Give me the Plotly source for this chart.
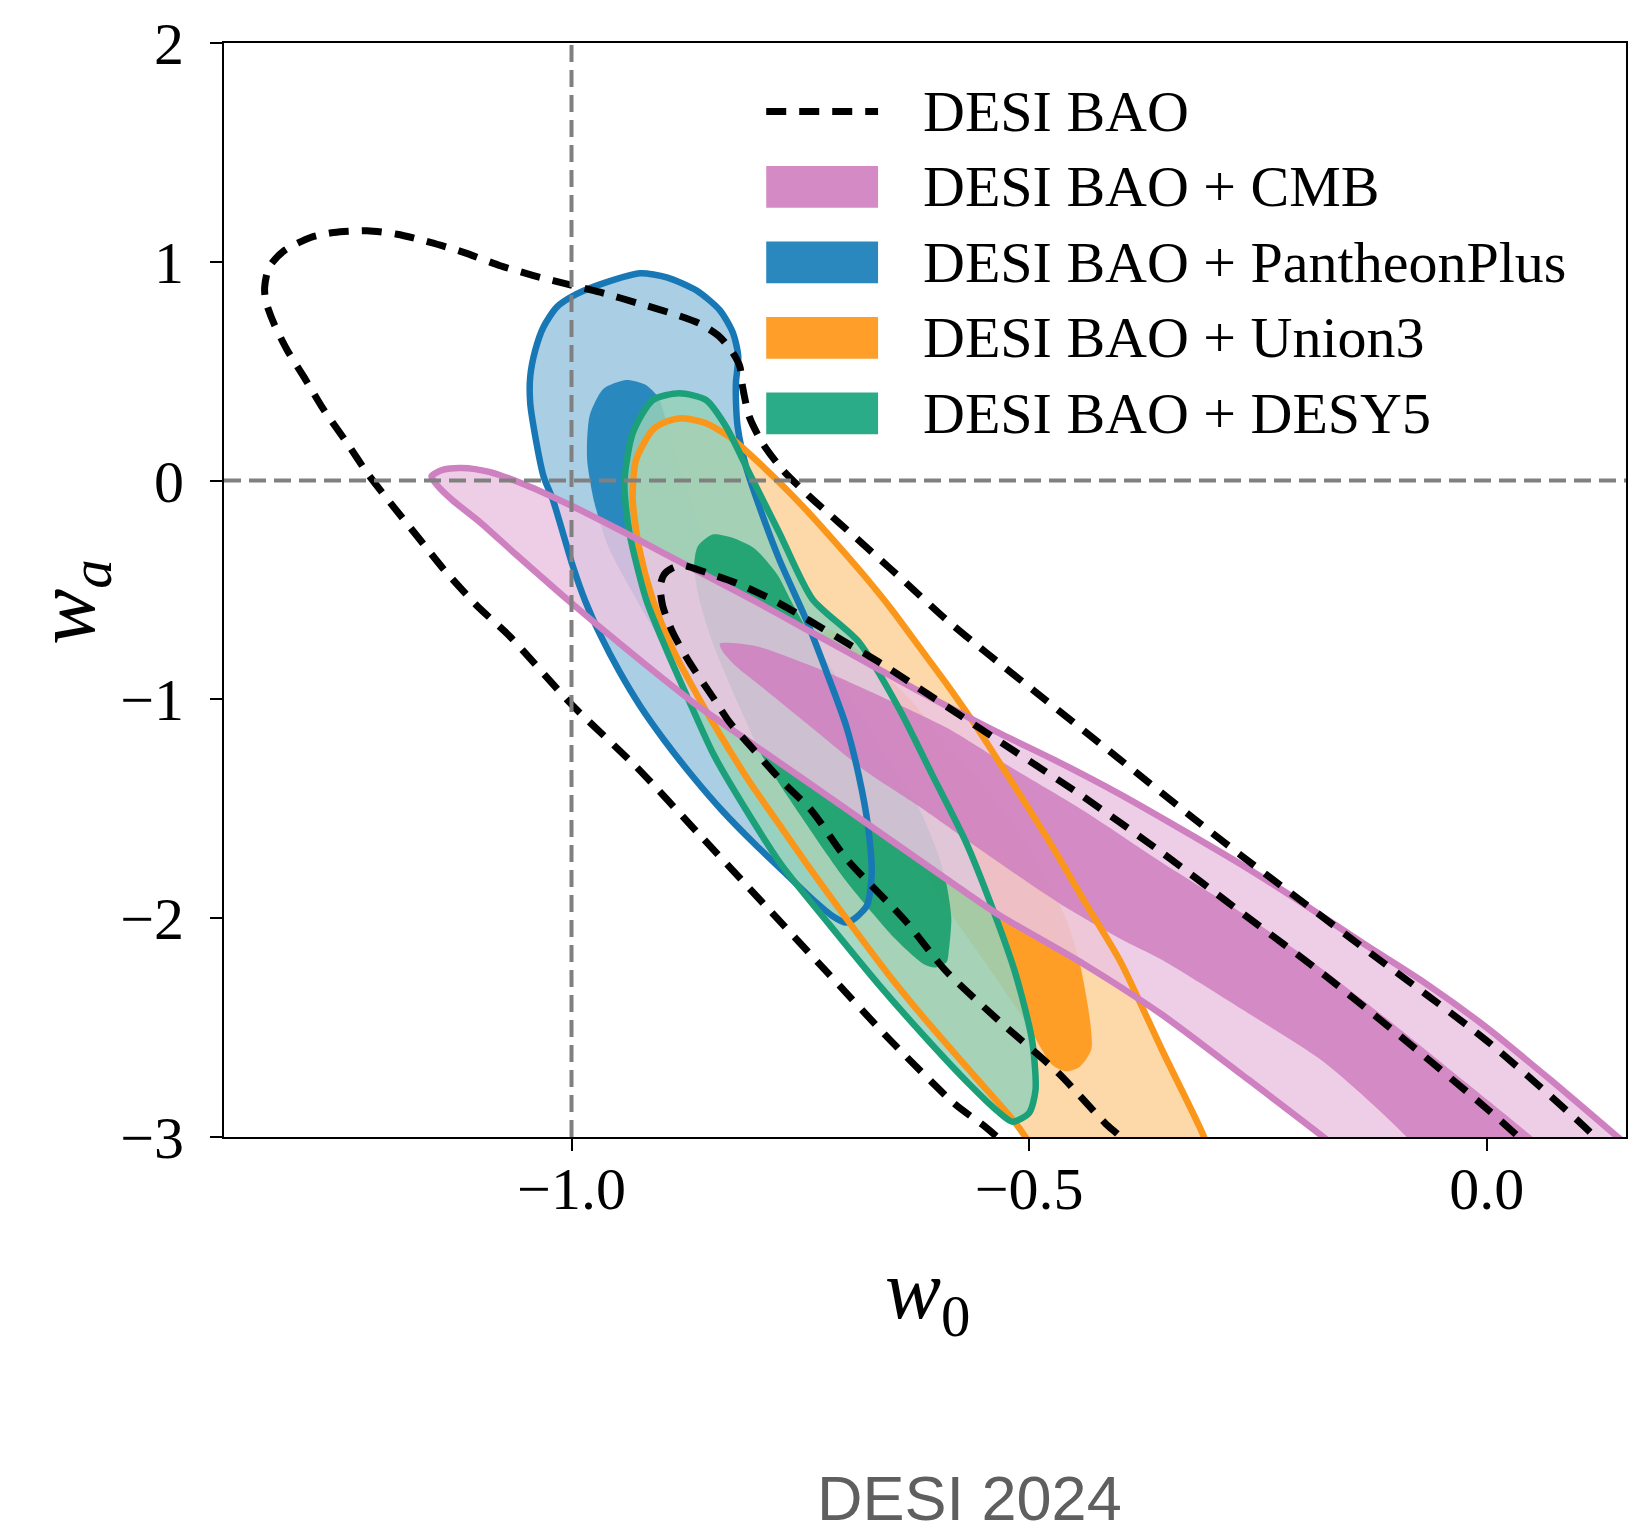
import plotly.graph_objects as go

# ---------------- data ----------------
W0_RANGE = [-1.3797, 0.1522]
WA_RANGE = [-3.0, 2.0]
W0_TICKS = [-1.0, -0.5, 0.0]
W0_TICK_TEXT = ["\u22121.0", "\u22120.5", "0.0"]
WA_TICKS = [-3, -2, -1, 0, 1, 2]
WA_TICK_TEXT = ["\u22123", "\u22122", "\u22121", "0", "1", "2"]

LEGEND_LABELS = ["DESI BAO", "DESI BAO + CMB", "DESI BAO + PantheonPlus",
                 "DESI BAO + Union3", "DESI BAO + DESY5"]

# DESI BAO alone (dashed, open paths because they leave the axes)
desi_95_w0 = [-0.51, -0.535, -0.548, -0.581, -0.6505, -0.72, -0.7896, -0.8591, -0.9288, -1.0,
              -1.0678, -1.1033, -1.1397, -1.1688, -1.1979, -1.2233, -1.2451, -1.2706, -1.2924,
              -1.3106, -1.3251, -1.3342, -1.3353, -1.3306, -1.3142, -1.2851, -1.2597, -1.2233,
              -1.1906, -1.1542, -1.1178, -1.0778, -1.0415, -0.9978, -0.9687, -0.9251, -0.8887,
              -0.8596, -0.8378, -0.8233, -0.816, -0.8131, -0.8058, -0.7913, -0.7695, -0.7403,
              -0.7076, -0.6712, -0.6348, -0.5912, -0.5475, -0.493, -0.4021, -0.3184, -0.2662,
              -0.1329, 0.0, 0.1117, 0.14]
desi_95_wa = [-3.10, -3.00, -2.953, -2.85, -2.563, -2.25, -1.936, -1.623, -1.31, -1.023,
              -0.71, -0.572, -0.405, -0.253, -0.102, 0.035, 0.171, 0.323, 0.474,
              0.596, 0.717, 0.823, 0.884, 0.975, 1.050, 1.111, 1.134, 1.142,
              1.126, 1.089, 1.043, 0.982, 0.937, 0.891, 0.861, 0.808, 0.762,
              0.717, 0.656, 0.581, 0.52, 0.429, 0.293, 0.171, 0.050, -0.071,
              -0.193, -0.329, -0.466, -0.633, -0.784, -0.966, -1.270, -1.550, -1.72,
              -2.141, -2.56, -2.973, -3.10]

desi_68_w0 = [-0.38, -0.40, -0.4166, -0.4675, -0.533, -0.5912, -0.635, -0.7003, -0.737, -0.773,
              -0.8022, -0.8276, -0.842, -0.8712, -0.8895, -0.9004, -0.903, -0.899, -0.89,
              -0.8786, -0.853, -0.82, -0.78, -0.74, -0.70, -0.66, -0.62, -0.58, -0.533,
              -0.4441, -0.355, -0.2662, -0.1773, -0.0884, 0.0, 0.035, 0.05]
desi_68_wa = [-3.10, -3.00, -2.938, -2.71, -2.468, -2.24, -2.013, -1.725, -1.512, -1.361,
              -1.224, -1.103, -1.012, -0.830, -0.693, -0.572, -0.48, -0.43, -0.40,
              -0.387, -0.42, -0.468, -0.545, -0.64, -0.74, -0.84, -0.95, -1.06, -1.19,
              -1.435, -1.70, -1.98, -2.26, -2.56, -2.87, -3.0, -3.06]

# DESI BAO + CMB (pink)
cmb_95_w0 = [-1.153, -1.14, -1.12, -1.09, -1.05, -1.0, -0.95, -0.90, -0.85, -0.80, -0.75, -0.70,
             -0.65, -0.598, -0.533, -0.466, -0.400, -0.333, -0.266, -0.2, -0.133, -0.066, 0.0,
             0.07, 0.143, 0.17, 0.17, -0.14, -0.15, -0.177, -0.266, -0.355, -0.44, -0.533,
             -0.5767, -0.70, -0.80, -0.8676, -0.94, -1.0, -1.06, -1.10, -1.13, -1.147]
cmb_95_wa = [0.02, 0.05, 0.058, 0.04, -0.02, -0.115, -0.22, -0.33, -0.44, -0.55, -0.665, -0.78,
             -0.895, -1.012, -1.153, -1.29, -1.435, -1.595, -1.76, -1.935, -2.12, -2.30, -2.50,
             -2.74, -3.0, -3.1, -3.4, -3.4, -3.1, -3.005, -2.72, -2.44, -2.21, -1.985,
             -1.861, -1.50, -1.21, -1.012, -0.77, -0.56, -0.34, -0.19, -0.09, -0.02]
cmb_68_w0 = [-0.838, -0.80, -0.73, -0.66, -0.59, -0.52, -0.44, -0.355, -0.266, -0.1773, -0.1,
             -0.02, 0.049, 0.07, 0.07, -0.07, -0.07, -0.0884, -0.1773, -0.266, -0.355,
             -0.402, -0.46, -0.50, -0.569, -0.62, -0.678, -0.74, -0.79, -0.82, -0.835]
cmb_68_wa = [-0.745, -0.755, -0.86, -0.99, -1.13, -1.31, -1.51, -1.745, -1.98, -2.24, -2.49,
             -2.76, -2.996, -3.08, -3.4, -3.4, -3.1, -2.996, -2.659, -2.42, -2.19,
             -2.09, -1.95, -1.84, -1.64, -1.49, -1.33, -1.12, -0.95, -0.85, -0.78]

# DESI BAO + PantheonPlus (blue)
pan_95_w0 = [-0.9251, -0.896, -0.8633, -0.8378, -0.8233, -0.8178, -0.8203, -0.8203, -0.8185,
             -0.8094, -0.7949, -0.773, -0.7439, -0.72, -0.70, -0.686, -0.676, -0.672,
             -0.677, -0.69, -0.70, -0.715, -0.735, -0.765, -0.80, -0.835, -0.868, -0.898,
             -0.925, -0.948, -0.968, -0.985, -0.9986, -1.0204, -1.0306, -1.0396, -1.0451,
             -1.0451, -1.0396, -1.0306, -1.0161, -0.9942, -0.9615]
pan_95_wa = [0.948, 0.929, 0.869, 0.778, 0.672, 0.566, 0.45, 0.36, 0.247,
             0.065, -0.117, -0.36, -0.633, -0.89, -1.12, -1.35, -1.58, -1.80,
             -1.94, -2.0, -2.02, -1.99, -1.92, -1.80, -1.66, -1.51, -1.35, -1.19,
             -1.03, -0.87, -0.71, -0.55, -0.39, -0.087, 0.02, 0.202, 0.353,
             0.475, 0.596, 0.702, 0.793, 0.853, 0.907]
pan_68_w0 = [-0.94, -0.965, -0.98, -0.983, -0.975, -0.96, -0.935, -0.90, -0.86, -0.82, -0.79,
             -0.775, -0.78, -0.80, -0.83, -0.86, -0.88, -0.895, -0.905, -0.92]
pan_68_wa = [0.46, 0.42, 0.30, 0.10, -0.10, -0.30, -0.50, -0.75, -1.00, -1.20, -1.30,
             -1.25, -1.05, -0.80, -0.50, -0.20, 0.05, 0.25, 0.38, 0.44]

# DESI BAO + Union3 (orange)
uni_95_w0 = [-0.8786, -0.896, -0.9113, -0.9294, -0.9331, -0.9258, -0.9113, -0.8895, -0.8585,
             -0.835, -0.805, -0.775, -0.74, -0.70, -0.655, -0.61, -0.56, -0.52, -0.504, -0.49,
             -0.48, -0.29, -0.30, -0.3108, -0.355, -0.40, -0.44, -0.475, -0.52, -0.56,
             -0.59, -0.62, -0.65, -0.68, -0.71, -0.74, -0.77, -0.80, -0.824, -0.853]
uni_95_wa = [0.285, 0.27, 0.232, 0.095, -0.087, -0.314, -0.542, -0.769, -1.012,
             -1.18, -1.38, -1.56, -1.77, -2.0, -2.25, -2.48, -2.72, -2.91, -3.0, -3.1,
             -3.4, -3.4, -3.1, -2.981, -2.60, -2.20, -1.92, -1.67, -1.37, -1.11,
             -0.93, -0.76, -0.59, -0.435, -0.29, -0.15, -0.02, 0.10, 0.19, 0.262]
uni_68_w0 = [-0.72, -0.68, -0.63, -0.58, -0.53, -0.49, -0.46, -0.445, -0.434, -0.432, -0.445,
             -0.46, -0.475, -0.50, -0.54, -0.59, -0.64, -0.68, -0.715, -0.735]
uni_68_wa = [-0.68, -0.80, -1.00, -1.25, -1.50, -1.75, -2.00, -2.20, -2.45, -2.60, -2.68,
             -2.70, -2.67, -2.50, -2.25, -1.95, -1.60, -1.30, -1.00, -0.80]

# DESI BAO + DESY5 (green)
des_95_w0 = [-0.8822, -0.9113, -0.9331, -0.9422, -0.9367, -0.9185, -0.8967, -0.871, -0.845,
             -0.81, -0.77, -0.72, -0.665, -0.61, -0.565, -0.535, -0.518, -0.50, -0.493,
             -0.4967, -0.5148, -0.5403, -0.5694, -0.6058, -0.6421, -0.6858, -0.7367, -0.773,
             -0.8058, -0.8312, -0.853]
des_95_wa = [0.399, 0.368, 0.217, -0.011, -0.238, -0.542, -0.769, -1.012, -1.25,
             -1.50, -1.76, -2.02, -2.30, -2.56, -2.76, -2.88, -2.93, -2.89, -2.786,
             -2.559, -2.255, -1.952, -1.649, -1.345, -1.042, -0.739, -0.542, -0.238,
             0.035, 0.247, 0.368]
des_68_w0 = [-0.846, -0.862, -0.866, -0.86, -0.845, -0.82, -0.79, -0.75, -0.70, -0.645, -0.615,
             -0.602, -0.59, -0.588, -0.585, -0.59, -0.60, -0.62, -0.65, -0.68, -0.71, -0.74,
             -0.76, -0.775, -0.80, -0.825]
des_68_wa = [-0.246, -0.30, -0.39, -0.55, -0.75, -1.00, -1.27, -1.53, -1.83, -2.10, -2.21,
             -2.225, -2.20, -2.16, -2.00, -1.85, -1.70, -1.50, -1.30, -1.10, -0.90, -0.70,
             -0.55, -0.43, -0.31, -0.26]

# colours
BLUE = dict(light="rgba(155,199,223,0.85)", dark="rgba(19,124,183,0.85)",
            line="rgb(24,120,182)", patch="rgb(42,136,190)")
ORANGE = dict(light="rgba(253,209,153,0.85)", dark="rgba(255,148,17,0.85)",
              line="rgb(250,150,25)", patch="rgb(255,158,40)")
GREEN = dict(light="rgba(151,209,186,0.85)", dark="rgba(15,156,104,0.85)",
             line="rgb(28,160,122)", patch="rgb(42,172,137)")
PINK = dict(light="rgba(235,198,226,0.85)", dark="rgba(207,126,190,0.85)",
            line="rgb(207,128,192)", patch="rgb(212,138,196)")

SPLINE = dict(shape="spline", smoothing=0.7)


def closed(a):
    return list(a) + [a[0]]


fig = go.Figure()

sets = [
    (pan_95_w0, pan_95_wa, pan_68_w0, pan_68_wa, BLUE),
    (uni_95_w0, uni_95_wa, uni_68_w0, uni_68_wa, ORANGE),
    (des_95_w0, des_95_wa, des_68_w0, des_68_wa, GREEN),
    (cmb_95_w0, cmb_95_wa, cmb_68_w0, cmb_68_wa, PINK),
]

# filled regions
for x95, y95, x68, y68, col in sets:
    fig.add_trace(go.Scatter(x=closed(x95), y=closed(y95), mode="lines", fill="toself",
                             fillcolor=col["light"], line=dict(width=0, **SPLINE),
                             hoverinfo="skip", showlegend=False))
    fig.add_trace(go.Scatter(x=closed(x68), y=closed(y68), mode="lines", fill="toself",
                             fillcolor=col["dark"], line=dict(width=0, **SPLINE),
                             hoverinfo="skip", showlegend=False))

# outlines of the outer contours
for x95, y95, x68, y68, col in sets:
    fig.add_trace(go.Scatter(x=closed(x95), y=closed(y95), mode="lines",
                             line=dict(color=col["line"], width=6.5, **SPLINE),
                             hoverinfo="skip", showlegend=False))

# DESI BAO dashed contours
for xs, ys in [(desi_95_w0, desi_95_wa), (desi_68_w0, desi_68_wa)]:
    fig.add_trace(go.Scatter(x=xs, y=ys, mode="lines",
                             line=dict(color="black", width=7, dash="20px,13px", **SPLINE),
                             hoverinfo="skip", showlegend=False))

# reference lines w0=-1, wa=0
fig.add_shape(type="line", xref="x", yref="paper", x0=-1, x1=-1, y0=0, y1=1,
              line=dict(color="#808080", width=4, dash="17px,8px"))
fig.add_shape(type="line", xref="paper", yref="y", x0=0, x1=1, y0=0, y1=0,
              line=dict(color="#808080", width=4, dash="17px,8px"))

# ---------------- layout ----------------
L, R, T, B = 224, 1628, 38, 1137
W, H = 1639, 1536


def px_x(x):
    return (x - L) / (R - L)


def px_y(y):
    return (B - y) / (B - T)


SERIF = "Liberation Serif"

fig.update_layout(
    width=W, height=H,
    margin=dict(l=L, r=W - R, t=T, b=H - B, pad=0),
    paper_bgcolor="white", plot_bgcolor="white",
    showlegend=False,
    font=dict(family=SERIF, color="black"),
    xaxis=dict(range=W0_RANGE, tickvals=W0_TICKS, ticktext=W0_TICK_TEXT,
               showgrid=False, zeroline=False, showline=True, linecolor="black",
               linewidth=2, mirror=True, ticks="outside", ticklen=12, tickwidth=2,
               tickcolor="black", tickfont=dict(family=SERIF, size=60, color="black"),
               ticklabelstandoff=-14),
    yaxis=dict(range=WA_RANGE, tickvals=WA_TICKS, ticktext=WA_TICK_TEXT,
               showgrid=False, zeroline=False, showline=True, linecolor="black",
               linewidth=2, mirror=True, ticks="outside", ticklen=12, tickwidth=2,
               tickcolor="black", tickfont=dict(family=SERIF, size=60, color="black"),
               ticklabelstandoff=14),
)

# axis titles
fig.add_annotation(x=px_x(929), y=px_y(1297), xref="paper", yref="paper",
                   text="<i>w</i><sub>0</sub>", showarrow=False,
                   font=dict(family=SERIF, size=84, color="black"),
                   xanchor="center", yanchor="middle")
fig.add_annotation(x=px_x(72), y=px_y(600), xref="paper", yref="paper",
                   text="<i>w</i><sub><i>a</i></sub>", showarrow=False, textangle=-90,
                   font=dict(family=SERIF, size=84, color="black"),
                   xanchor="center", yanchor="middle")

# footer
fig.add_annotation(x=px_x(971), y=px_y(1500), xref="paper", yref="paper",
                   text="DESI 2024", showarrow=False,
                   font=dict(family="Liberation Sans", size=63, color="#5f5f5f"),
                   xanchor="center", yanchor="middle")

# legend (drawn by hand to match the large swatches)
rows_y = [106.7, 182.5, 258.3, 334.2, 410.0]
sw_x0, sw_x1, txt_x = 767, 879, 922
fig.add_shape(type="line", xref="paper", yref="paper",
              x0=px_x(sw_x0), x1=px_x(sw_x1), y0=px_y(rows_y[0]), y1=px_y(rows_y[0]),
              line=dict(color="black", width=7, dash="20px,13px"))
for yy, col in zip(rows_y[1:], [PINK, BLUE, ORANGE, GREEN]):
    fig.add_shape(type="rect", xref="paper", yref="paper",
                  x0=px_x(sw_x0), x1=px_x(sw_x1), y0=px_y(yy + 21), y1=px_y(yy - 21),
                  fillcolor=col["patch"], line=dict(width=0))
for yy, lab in zip(rows_y, LEGEND_LABELS):
    fig.add_annotation(x=px_x(txt_x), y=px_y(yy), xref="paper", yref="paper",
                       text=lab, showarrow=False,
                       font=dict(family=SERIF, size=58, color="black"),
                       xanchor="left", yanchor="middle")

fig.write_html("out.html")
